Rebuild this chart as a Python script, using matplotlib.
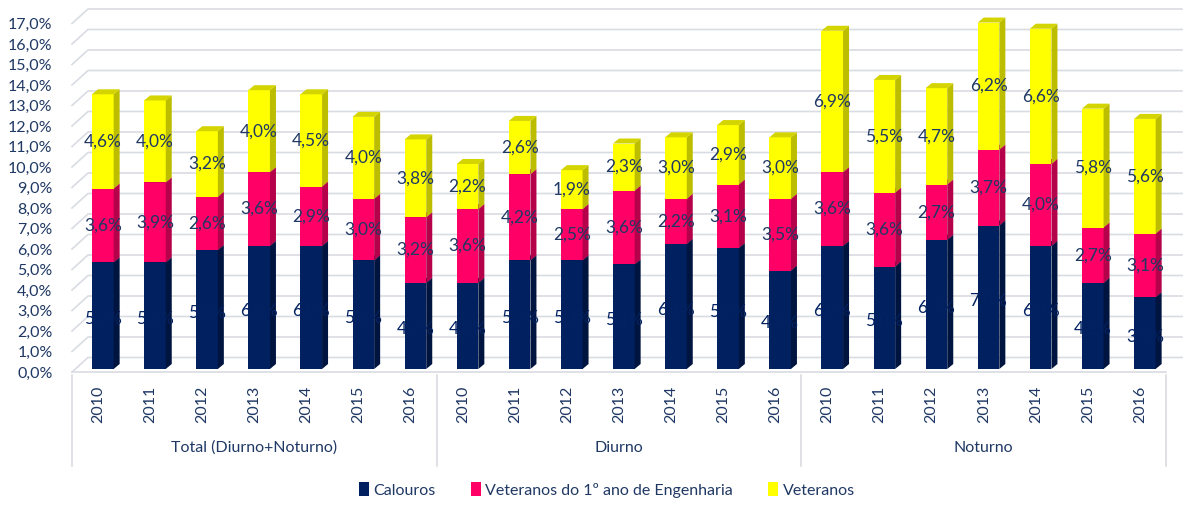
import matplotlib
matplotlib.use("Agg")
import matplotlib.pyplot as plt
from matplotlib.patches import Polygon, Patch

plt.rcParams['font.family'] = ['Lato', 'DejaVu Sans']

groups = ["Total (Diurno+Noturno)", "Diurno", "Noturno"]
years = ["2010", "2011", "2012", "2013", "2014", "2015", "2016"]
series_names = ["Calouros", "Veteranos do 1º ano de Engenharia", "Veteranos"]

calouros = [5.2, 5.2, 5.8, 6.0, 6.0, 5.3, 4.2,
            4.2, 5.3, 5.3, 5.1, 6.1, 5.9, 4.8,
            6.0, 5.0, 6.3, 7.0, 6.0, 4.2, 3.5]
vet_1ano = [3.6, 3.9, 2.6, 3.6, 2.9, 3.0, 3.2,
            3.6, 4.2, 2.5, 3.6, 2.2, 3.1, 3.5,
            3.6, 3.6, 2.7, 3.7, 4.0, 2.7, 3.1]
veteranos = [4.6, 4.0, 3.2, 4.0, 4.5, 4.0, 3.8,
             2.2, 2.6, 1.9, 2.3, 3.0, 2.9, 3.0,
             6.9, 5.5, 4.7, 6.2, 6.6, 5.8, 5.6]

front = ["#002060", "#FF0066", "#FFFF00"]
side = ["#001440", "#B5004A", "#BDBD00"]
top = ["#00194f", "#D60057", "#D4D400"]
label_c = ["#022262", "#1F3864", "#1F3864"]
txt = "#1F3864"
grid_c = "#D9DCE3"

W, H = 1192, 514
fig = plt.figure(figsize=(W / 100, H / 100), dpi=100)
px_x0, px_x1 = 72, 1182
px_y0, px_y1 = 372, 7
ax = fig.add_axes([px_x0 / W, (H - px_y0) / H, (px_x1 - px_x0) / W, (px_y0 - px_y1) / H])
slot = 52.1
unit = 20.5
xmax = -0.5 + (px_x1 - px_x0) / slot
ax.set_xlim(-0.5, xmax)
ax.set_ylim(0, (px_y0 - px_y1) / unit)
for s in ax.spines.values():
    s.set_visible(False)
ax.set_xticks([])

# wall depth & bar depth (in data units)
wdx, wdy = 16 / slot, 14.5 / unit
bdx, bdy = 6 / slot, 5 / unit
base = 3 / unit
bw = 21.6 / slot
boff = 4.8 / slot

# gridlines (left side wall + back wall)
yt = list(range(18))
for v in yt:
    ax.plot([-0.5, -0.5 + wdx, xmax], [v, v + wdy, v + wdy], color=grid_c, lw=1.2,
            zorder=0, clip_on=False)
ax.plot([-0.5, 20.5], [0, 0], color=grid_c, lw=1.2, zorder=0, clip_on=False)

ax.set_yticks(yt)
ax.set_yticklabels([f"{v:.1f}%".replace(".", ",") for v in yt], fontsize=11.5, color=txt)
ax.tick_params(axis='y', length=0, pad=14)

n = len(calouros)
series = [calouros, vet_1ano, veteranos]
for i in range(n):
    xc = i + boff
    xl, xr = xc - bw / 2, xc + bw / 2
    bottom = base
    for k, vals in enumerate(series):
        h = vals[i]
        ax.bar(xc, h, bottom=bottom, width=bw, color=front[k], linewidth=0, zorder=2)
        t = bottom + h
        ax.add_patch(Polygon([[xr, bottom], [xr + bdx, bottom + bdy], [xr + bdx, t + bdy], [xr, t]],
                             closed=True, facecolor=side[k], edgecolor='none', zorder=2))
        ax.add_patch(Polygon([[xl, t], [xl + bdx, t + bdy], [xr + bdx, t + bdy], [xr, t]],
                             closed=True, facecolor=top[k], edgecolor='none', zorder=2))
        yl = bottom + h / 2 - (0.15 if k == 0 else 0)
        ax.text(xc, yl, f"{h:.1f}%".replace(".", ","), ha='center', va='center',
                fontsize=12.5, color=label_c[k], zorder=3)
        bottom = t

# category axis
labels = years * len(groups)
for i, lab in enumerate(labels):
    ax.text(i, -1.6, lab, rotation=90, ha='center', va='center', fontsize=11.5,
            color=txt, clip_on=False)
for g in range(len(groups) + 1):
    xs = -0.5 + g * len(years)
    ax.plot([xs, xs], [-0.15, -4.6], color=grid_c, lw=1.2, clip_on=False)
for g, name in enumerate(groups):
    ax.text(g * len(years) + (len(years) - 1) / 2, -3.7, name, ha='center', va='center',
            fontsize=11.5, color=txt, clip_on=False)

handles = [Patch(facecolor=front[k], edgecolor='none', label=series_names[k]) for k in range(3)]
leg = fig.legend(handles=handles, loc='center', bbox_to_anchor=(607 / W, 1 - 490 / H), ncol=3,
                 frameon=False, fontsize=11.5, handlelength=0.6, handleheight=0.9,
                 handletextpad=0.3, columnspacing=2.2)
for t in leg.get_texts():
    t.set_color(txt)

fig.savefig("out.png", dpi=100, facecolor='white')
